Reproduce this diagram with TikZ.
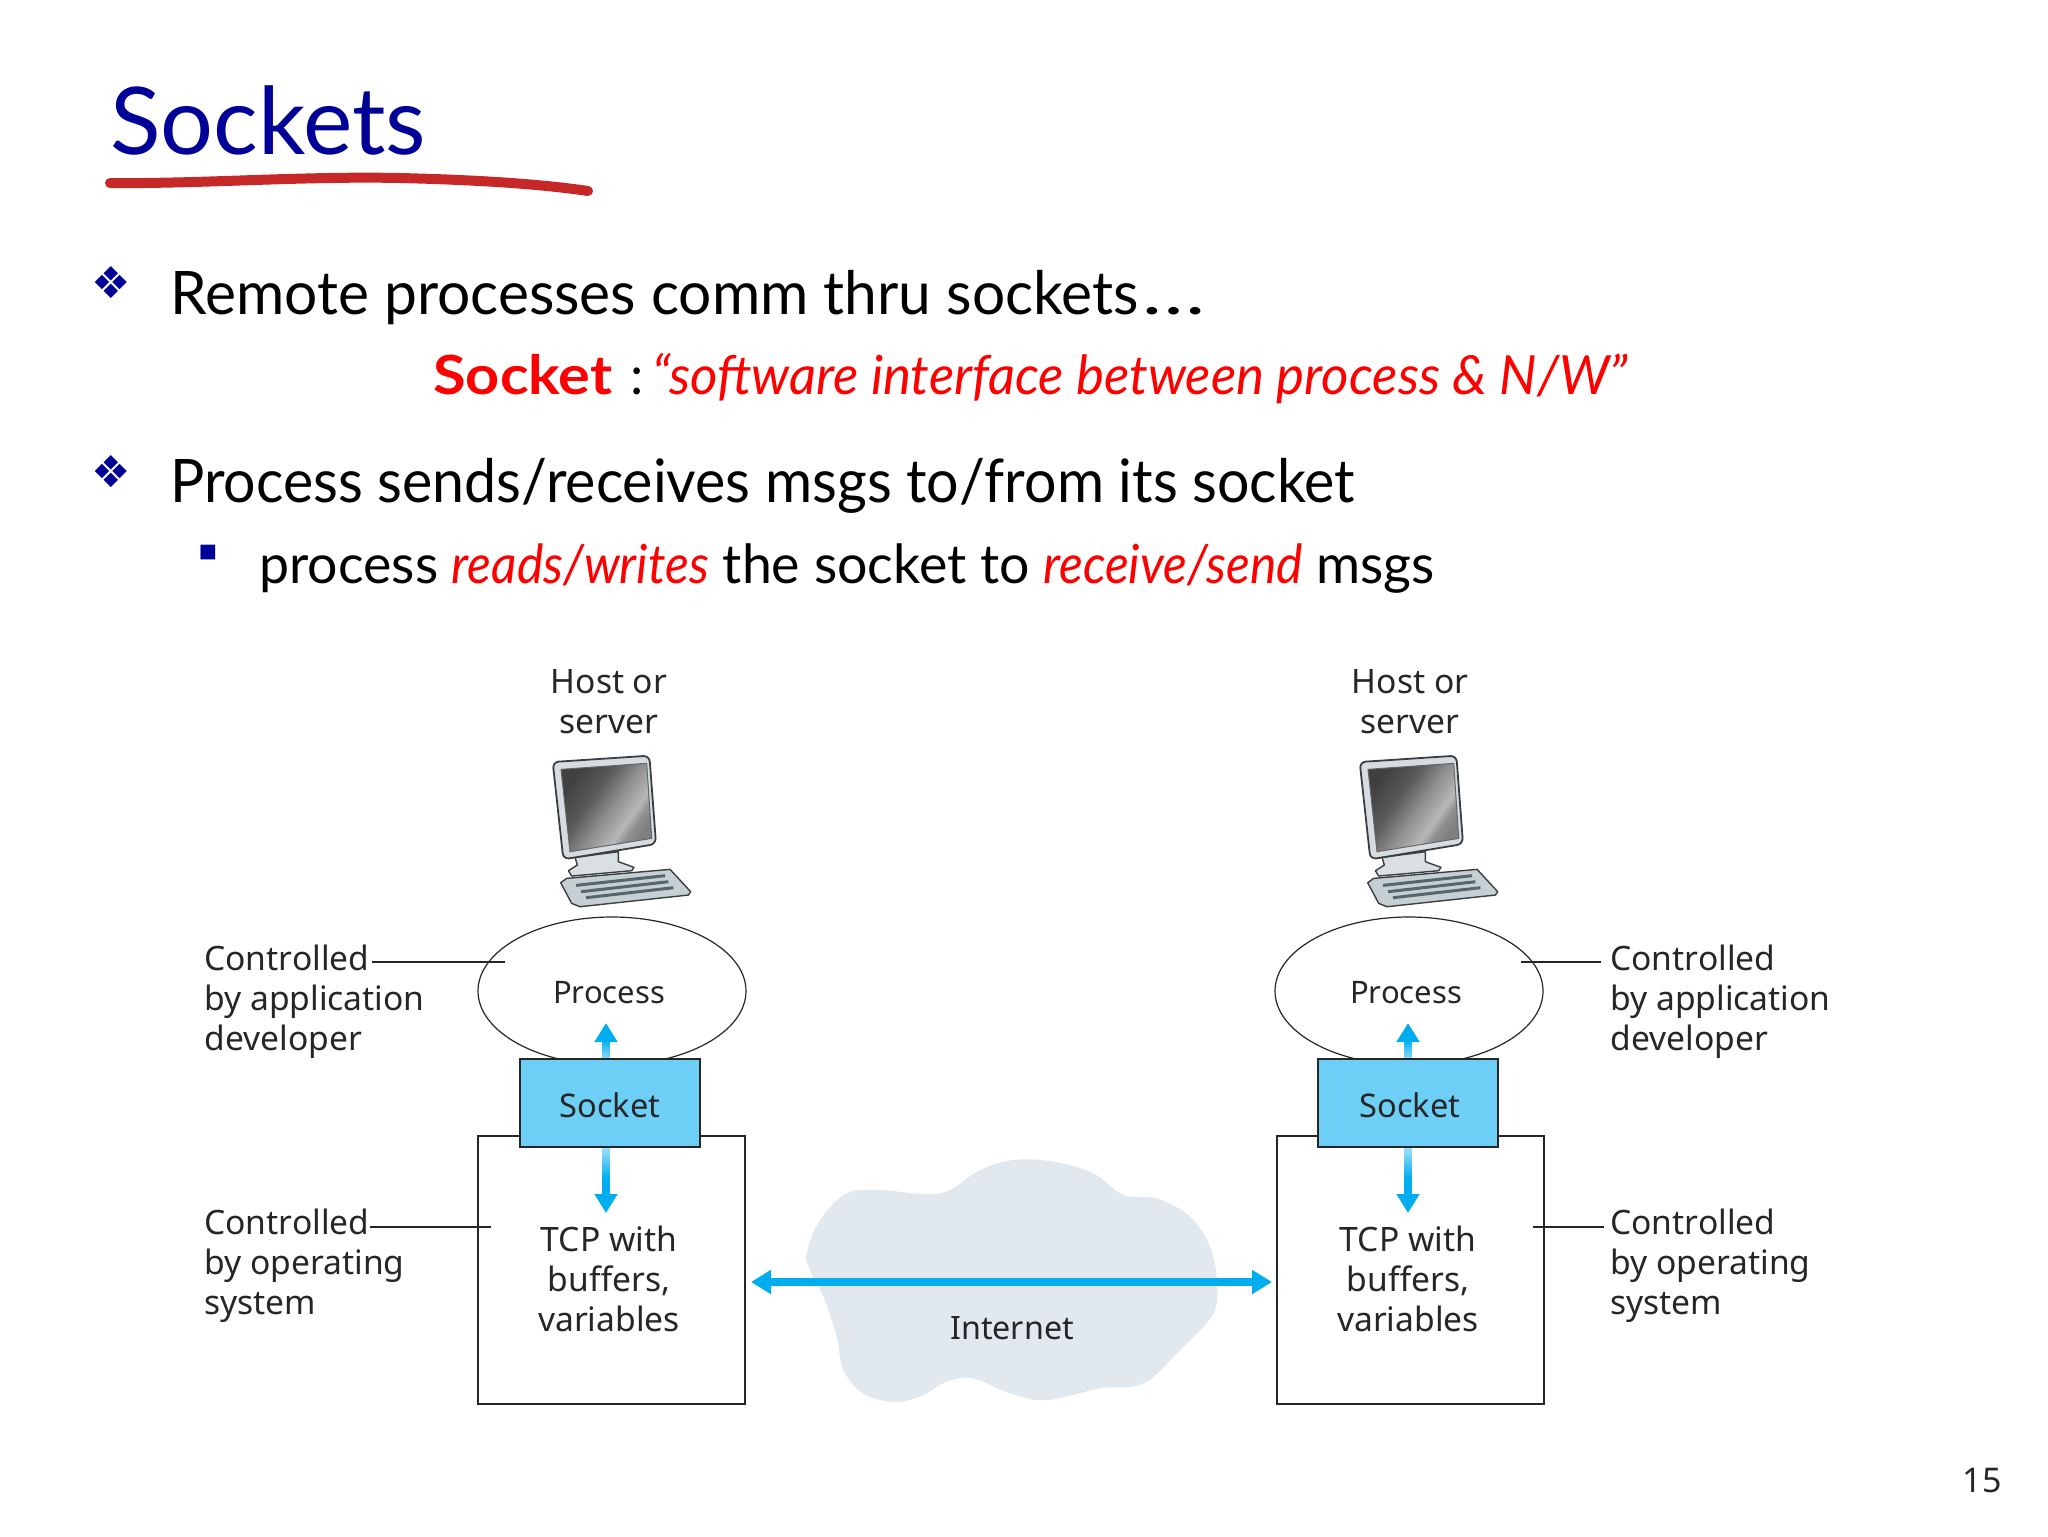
\documentclass[tikz,border=0pt]{standalone}
\usepackage{fontspec}
\usetikzlibrary{shapes.geometric,arrows.meta,calc}
\setmainfont{Lato}
\newfontfamily\bodyfont[FakeStretch=0.955]{Lato}
\newfontfamily\quotefont[FakeStretch=0.978]{Lato}
\newfontfamily\sockfont[FakeStretch=1.1]{Lato}
\newfontfamily\subfont[FakeStretch=0.993]{Lato}
\newfontfamily\subitfont[FakeStretch=0.92]{Lato}
\newfontfamily\figfont{Noto Sans}
\newfontfamily\symfont{DejaVu Sans}
\definecolor{titleblue}{HTML}{000099}
\definecolor{inkred}{HTML}{C62828}
\definecolor{sockblue}{HTML}{6DCFF6}
\definecolor{arrowblue}{HTML}{00AEEF}
\definecolor{cloudgrey}{HTML}{E1E8EE}
\definecolor{figink}{HTML}{262626}
\definecolor{pcframe}{HTML}{D6DCDF}
\definecolor{pckeys}{HTML}{C6CFD3}
\definecolor{pcstand}{HTML}{D9DFE2}
\definecolor{pcrows}{HTML}{55666E}
\definecolor{pcedge}{HTML}{3A3F42}
\pgfdeclarehorizontalshading{screenshade}{100bp}{rgb(0bp)=(0.25,0.25,0.25);rgb(25bp)=(0.25,0.25,0.25);rgb(40bp)=(0.35,0.35,0.35);rgb(52bp)=(0.55,0.55,0.55);rgb(64bp)=(0.72,0.72,0.72);rgb(69bp)=(0.56,0.56,0.56);rgb(75bp)=(0.5,0.5,0.5);rgb(100bp)=(0.5,0.5,0.5)}
\tikzset{
  x=0.5pt,y=-0.5pt,
  bodyline/.style={anchor=base west,inner sep=0pt,font=\bodyfont\fontsize{30}{36}\selectfont,text=black},
  subline/.style={anchor=base west,inner sep=0pt,font=\subfont\fontsize{27}{32}\selectfont,text=black},
  quoteline/.style={anchor=base west,inner sep=0pt,font=\quotefont\fontsize{27}{32}\selectfont,text=red},
  bulletd/.style={inner sep=0pt,text=titleblue,font=\symfont\fontsize{22}{24}\selectfont},
  figtext/.style={inner sep=0pt,align=center,text=figink,font=\figfont\fontsize{16.8}{20}\selectfont},
  figleft/.style={figtext,align=left,anchor=west},
  leader/.style={draw=figink,line width=0.55pt},
  procell/.style={ellipse,draw=figink,line width=0.6pt,fill=white,minimum width=134pt,minimum height=74pt,inner sep=0pt},
  tcpbox/.style={rectangle,draw=figink,line width=0.8pt,fill=white,minimum width=133.5pt,minimum height=134pt,inner sep=0pt},
  sockbox/.style={rectangle,draw=figink,line width=0.7pt,fill=sockblue,minimum width=90pt,minimum height=44pt,inner sep=0pt},
  flow/.style={draw=arrowblue,line width=3.6pt,-{Triangle[length=9.5pt,width=11pt]}},
  bigflow/.style={draw=arrowblue,line width=4pt,{Triangle[length=10pt,width=11.5pt]}-{Triangle[length=10pt,width=11.5pt]}},
  pcline/.style={draw=pcedge,line width=0.7pt,line join=round},
  computer/.pic={
    \begin{scope}[x=0.1667pt,y=-0.1667pt]
      \filldraw[pcline,fill=pcstand] (225,352) -- (355,335) -- (355,365) -- (402,382) -- (395,392) -- (215,408) -- (205,392) -- (232,375) -- cycle;
      \filldraw[pcline,fill=pckeys] (182,428) -- (200,415) -- (510,388) -- (572,455) -- (565,465) -- (240,500) -- (215,490) -- cycle;
      \draw[draw=pcrows,line width=1.5pt] (228,436) -- (495,407) (243,455) -- (505,425) (258,473) -- (520,443);
      \filldraw[pcline,line width=0.9pt,fill=pcframe,rounded corners=3pt] (158,66) -- (448,47) -- (468,312) -- (190,358) -- cycle;
      \shade[shading=screenshade,shading angle=-35] (183,88) -- (440,70) -- (455,295) -- (210,335) -- cycle;
      \draw[draw=black!60,line width=0.5pt] (183,88) -- (440,70) -- (455,295) -- (210,335) -- cycle;
    \end{scope}
  }
}
\begin{document}
\begin{tikzpicture}
\useasboundingbox (0,0) rectangle (2048,1536);
% title
\node[anchor=base west,inner sep=0pt,text=titleblue,font=\fontsize{46.7}{56}\selectfont] (title) at (110,155) {Sockets};
\coordinate (ulA) at (110,183);
\coordinate (ulB) at (588,191);
\draw[draw=inkred,line width=5pt,line cap=round] (ulA) .. controls (200,184) and (300,176) .. (400,178) .. controls (480,180) and (540,184) .. (ulB);
% body text
\node[bulletd] (b1) at (111,283) {❖};
\node[bodyline,font=\quotefont\fontsize{30}{36}\selectfont] (t1) at (170,314) {Remote processes comm thru sockets\kern2pt{\addfontfeature{FakeStretch=1.4}…}};
\node[quoteline,font=\sockfont\fontsize{27}{32}\selectfont\bfseries] (t2a) at (433,394) {Socket};
\node[quoteline,text=black] (t2b) at (630,394) {:};
\node[quoteline] (t2c) at (652,394) {\textit{“software interface between process \& N/W”}};
\node[bulletd] (b2) at (111,472) {❖};
\node[bodyline] (t3) at (170,502) {Process sends/receives msgs to/from its socket};
\node[inner sep=0pt,text=titleblue,font=\symfont\fontsize{9.6}{12}\selectfont] (b3) at (208,553) {■};
\node[subline] (t4) at (259,583) {process {\subitfont\color{red}\itshape reads/writes} the socket to {\subitfont\color{red}\itshape receive/send} msgs};
% cloud
\begin{scope}[shift={(780,1130)},x=0.1667pt,y=-0.1667pt]
\fill[cloudgrey] plot[smooth cycle,tension=0.6] coordinates {(80,370) (120,270) (200,190) (300,180) (480,190) (600,120) (700,90) (820,95) (940,130) (1030,195) (1130,205) (1230,260) (1290,350) (1310,450) (1300,550) (1200,660) (1090,760) (960,775) (800,810) (690,790) (580,745) (500,755) (420,800) (340,815) (250,790) (190,720) (170,620) (130,500) (90,420)};
\end{scope}
\node[figtext,font=\figfont\fontsize{16.1}{20}\selectfont] (inet) at (1012,1328) {Internet};
% computers
\pic at (500,740) {computer};
\pic at (1307,740) {computer};
% left stack
\node[figtext] (hostL) at (609,702) {Host or\\server};
\node[procell] (procL) at (612,991) {};
\node[tcpbox] (boxL) at (611.5,1270) {};
\node[figtext,font=\figfont\fontsize{15.5}{20}\selectfont] (procLt) at (609,993) {Process};
\node[figtext] (tcpL) at (609,1279) {TCP with\\buffers,\\variables};
\coordinate (upL) at (606,1023);
\coordinate (dnL) at (606,1213);
\coordinate (sockLt) at (606,1062);
\coordinate (sockLb) at (606,1146);
\draw[flow] (sockLt) -- (upL);
\draw[flow] (sockLb) -- (dnL);
\shade[top color=arrowblue,bottom color=sockblue!70] (602.4,1040) rectangle (609.6,1060);
\shade[top color=sockblue!60,bottom color=arrowblue] (602.4,1146) rectangle (609.6,1178);
\node[sockbox] (sockL) at (610,1103) {};
\node[figtext,font=\figfont\fontsize{16.3}{20}\selectfont] (sockLl) at (610,1105) {Socket};
% right stack
\node[figtext] (hostR) at (1410,702) {Host or\\server};
\node[procell] (procR) at (1409,991) {};
\node[tcpbox] (boxR) at (1410.5,1270) {};
\node[figtext,font=\figfont\fontsize{15.5}{20}\selectfont] (procRt) at (1406,993) {Process};
\node[figtext] (tcpR) at (1408,1279) {TCP with\\buffers,\\variables};
\coordinate (upR) at (1408,1023);
\coordinate (dnR) at (1408,1213);
\coordinate (sockRt) at (1408,1062);
\coordinate (sockRb) at (1408,1146);
\draw[flow] (sockRt) -- (upR);
\draw[flow] (sockRb) -- (dnR);
\shade[top color=arrowblue,bottom color=sockblue!70] (1404.4,1040) rectangle (1411.6,1060);
\shade[top color=sockblue!60,bottom color=arrowblue] (1404.4,1146) rectangle (1411.6,1178);
\node[sockbox] (sockR) at (1408,1103) {};
\node[figtext,font=\figfont\fontsize{16.3}{20}\selectfont] (sockRl) at (1410,1105) {Socket};
% internet link
\coordinate (netL) at (751,1282);
\coordinate (netR) at (1272,1282);
\draw[bigflow] (netL) -- (netR);
% left labels
\node[figleft] (ctlAL) at (204,1002) {Controlled\\by application\\developer};
\node[figleft] (ctlOL) at (204,1266) {Controlled\\by operating\\system};
\coordinate (lAL) at (505,962);
\coordinate (lOL) at (491,1227);
\draw[leader] (372,962) -- (lAL);
\draw[leader] (370,1227) -- (lOL);
% right labels
\node[figleft] (ctlAR) at (1610,1002) {Controlled\\by application\\developer};
\node[figleft] (ctlOR) at (1610,1266) {Controlled\\by operating\\system};
\coordinate (lAR) at (1521,962);
\coordinate (lOR) at (1533,1227);
\draw[leader] (lAR) -- (1601,962);
\draw[leader] (lOR) -- (1604,1227);
% page number
\node[anchor=base east,inner sep=0pt,text=figink,font=\figfont\fontsize{17}{20}\selectfont] (pg) at (2002,1492) {15};
\end{tikzpicture}
\end{document}
